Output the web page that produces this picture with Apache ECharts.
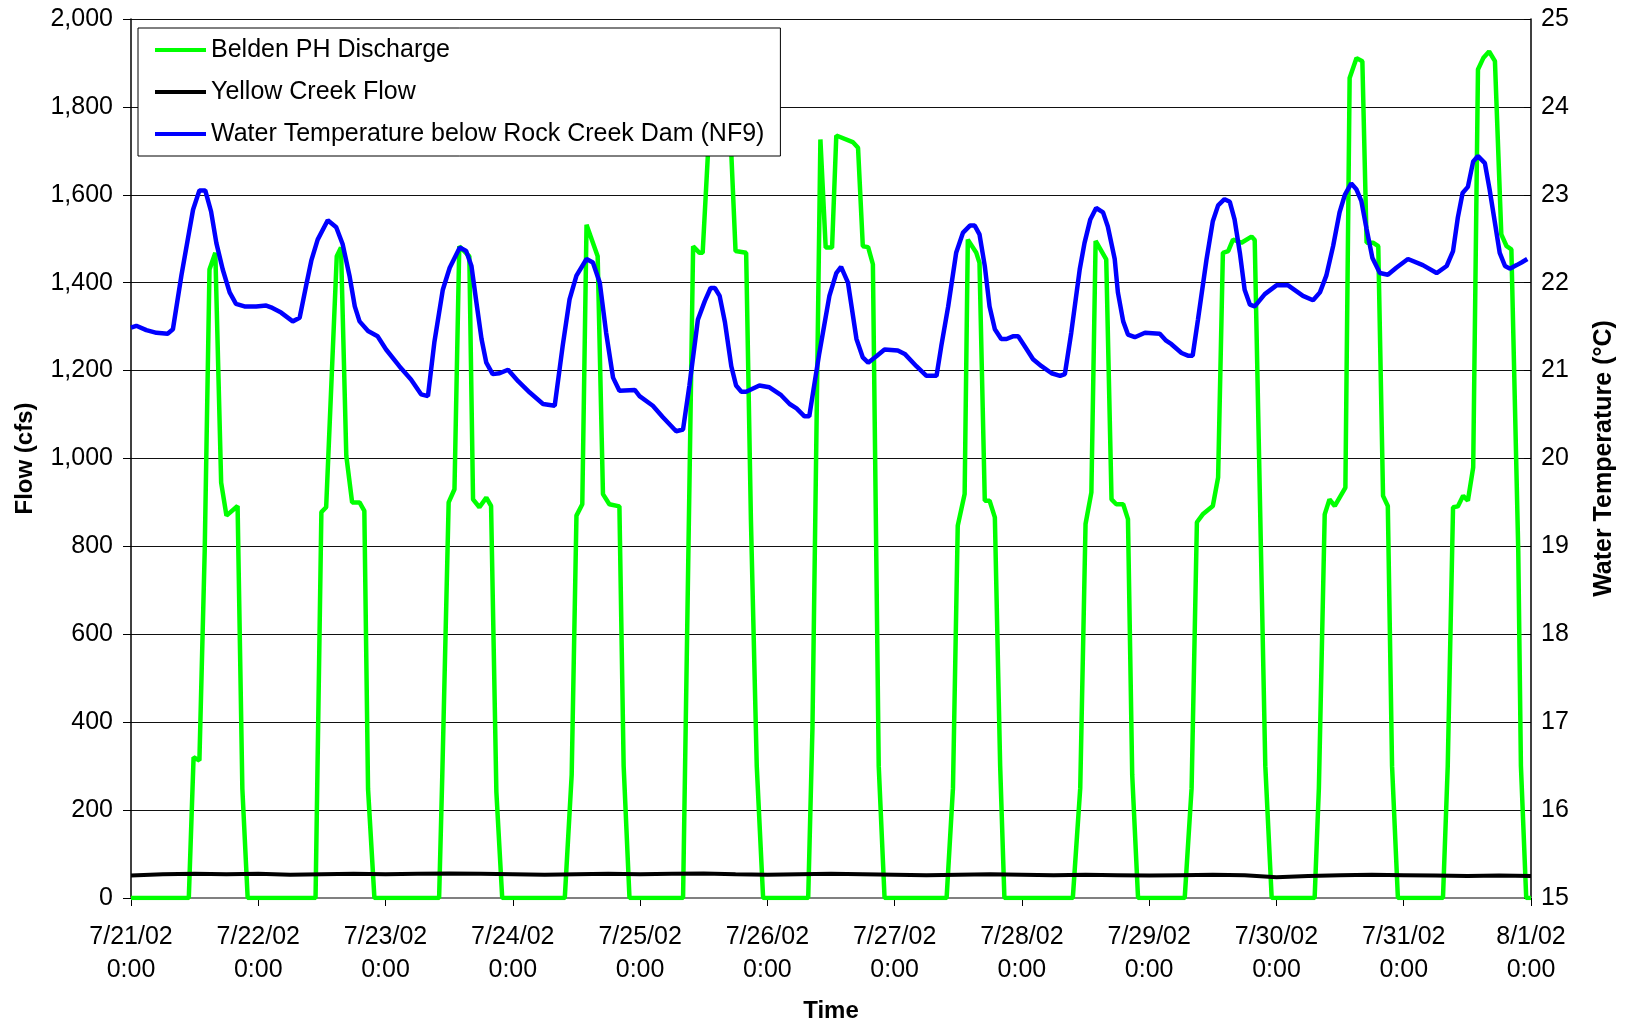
<!DOCTYPE html>
<html>
<head>
<meta charset="utf-8">
<script src="https://cdn.jsdelivr.net/npm/echarts@6/dist/echarts.min.js"></script>
<style>
html, body { margin: 0; padding: 0; background: #fff; }
#chart { width: 1629px; height: 1028px; }
</style>
</head>
<body>
<div id="chart"></div>
<script>
// x = hours since 7/21/02 0:00
const dayLabels = ['7/21/02', '7/22/02', '7/23/02', '7/24/02', '7/25/02', '7/26/02',
    '7/27/02', '7/28/02', '7/29/02', '7/30/02', '7/31/02', '8/1/02'];

// Belden PH Discharge (cfs) - break points of the line
const beldenHours = [
    0, 10.9, 11.8, 12.9, 13.9, 14.8, 15.9, 17.0, 18.0, 20.1, 21.0, 22.0,
    34.8, 35.9, 36.8, 38.8, 39.6, 40.6, 41.7, 43.1, 44.0, 44.7, 45.9,
    58.1, 58.7, 59.9, 61.0, 61.9, 63.8, 64.5, 65.7, 67.0, 67.9, 68.9, 70.0,
    81.8, 83.1, 84.0, 85.1, 85.9, 88.0, 89.0, 90.2, 92.1, 92.9, 94.0,
    104.1, 106.0, 107.2, 107.8, 109.0, 110.0, 112.0, 113.0, 114.0, 116.0, 116.9, 118.0, 119.2,
    127.7, 128.5, 130.0, 131.0, 132.2, 133.0, 136.1, 137.1, 138.0, 139.0, 139.9, 141.0, 142.1,
    153.8, 155.0, 155.9, 157.2, 157.8, 159.4, 160.0, 161.0, 161.9, 162.9, 163.9, 164.7,
    177.6, 179.0, 180.0, 181.1, 181.9, 183.9, 184.9, 185.8, 187.1, 188.0, 188.8, 189.9,
    198.7, 200.0, 201.0, 202.1, 204.0, 205.0, 205.9, 206.9, 207.8, 209.4, 211.3, 211.9, 213.9, 215.1,
    223.2, 224.0, 225.1, 226.0, 227.0, 229.0, 229.8, 231.1, 232.2, 233.0, 234.2, 235.2, 236.1, 237.0, 237.8, 238.9,
    247.4, 248.3, 249.3, 250.2, 251.2, 252.1, 253.1, 254.0, 255.0, 256.1, 257.2, 258.4, 259.4, 260.3, 261.6, 262.1, 263.1, 264
];
const beldenFlow = [
    0, 0, 320, 313, 790, 1430, 1468, 945, 870, 892, 248, 0,
    0, 878, 889, 1460, 1480, 1006, 900, 900, 881, 248, 0,
    0, 279, 900, 930, 1483, 1460, 907, 889, 911, 892, 241, 0,
    0, 280, 870, 896, 1532, 1460, 919, 896, 891, 300, 0,
    0, 1483, 1468, 1468, 1740, 1760, 1755, 1750, 1472, 1468, 860, 300, 0,
    0, 385, 1726, 1480, 1480, 1735, 1720, 1707, 1483, 1481, 1442, 300, 0,
    0, 250, 847, 919, 1498, 1468, 1445, 904, 904, 866, 300, 0,
    0, 250, 851, 923, 1495, 1453, 907, 896, 896, 862, 280, 0,
    0, 250, 855, 873, 892, 957, 1468, 1472, 1498, 1491, 1505, 1497, 300, 0,
    0, 250, 873, 907, 892, 934, 1866, 1911, 1904, 1491, 1491, 1483, 915, 892, 300, 0,
    0, 300, 889, 891, 915, 904, 980, 1885, 1911, 1926, 1904, 1510, 1483, 1476, 788, 300, 0, 0
];

// Yellow Creek Flow (cfs), every 6 hours
const yellowStep = 6;
const yellowFlow = [51, 54, 55, 54, 55, 53, 54, 55, 54, 55, 56, 55, 54, 53, 54, 55, 54, 55, 56, 54,
    53, 54, 55, 54, 53, 52, 53, 54, 53, 52, 53, 52, 51, 52, 53, 52, 47, 50, 52, 53, 52, 51, 50, 51, 50];

// Water Temperature below Rock Creek Dam (NF9), deg C
const tempHours = [
    0, 1.0, 2.9, 4.8, 6.9, 7.9, 9.5, 10.7, 11.7, 12.9, 14.0, 15.1, 16.1, 17.3, 18.6, 19.8, 21.4, 23.6,
    25.5, 26.4, 28.3, 30.5, 31.8, 33.0, 34.0, 35.2, 37.1, 38.7, 39.9, 41.2, 42.2, 43.1, 44.7, 46.5,
    48.1, 50.6, 52.8, 54.7, 56.0, 57.2, 58.8, 60.1, 62.0, 63.2, 64.2, 65.1, 66.1, 67.0, 68.2, 69.5, 71.1,
    73.0, 75.2, 77.7, 79.9, 81.4, 82.7, 84.0, 85.9, 87.1, 88.4, 89.6, 90.9, 92.1, 95.0,
    95.9, 98.4, 100.3, 102.8, 104.1, 105.3, 106.9, 108.2, 109.3, 110.1, 111.0, 112.0, 113.2, 114.1, 115.1, 116.0, 118.5,
    120.4, 122.6, 124.2, 125.5, 127.0, 127.9, 129.8, 131.7, 133.0, 133.9, 135.2, 136.8, 138.0, 139.0, 140.5, 142.1,
    144.6, 145.9, 148.1, 150.0, 151.9, 152.8, 154.1, 155.6, 156.9, 158.2, 159.1, 160.0, 161.0, 161.9, 162.9, 164.1, 165.1, 166.3, 167.3,
    168.5, 170.1, 171.7, 173.6, 175.2, 176.1, 177.3, 178.9, 179.8, 180.9, 182.0, 183.3, 184.2, 185.5, 186.1, 187.1, 188.0, 189.3, 191.2,
    194.0, 195.2, 196.2, 198.1, 199.3, 200.2, 201.2, 202.8, 204.0, 205.0, 206.2, 207.2, 208.1, 209.1, 210.0, 211.0, 211.9, 213.8,
    216.0, 218.2, 221.0, 222.9, 224.2, 225.4, 226.7, 227.9, 228.9, 230.1, 231.1, 232.0, 233.0, 234.1, 235.5, 237.0, 238.6,
    240.8, 243.6, 246.2, 248.1, 249.3, 250.2, 251.1, 252.1, 253.1, 254.0, 255.3, 256.2, 257.2, 258.1, 259.1, 260.0, 261.3, 262.2, 263.3
];
const tempC = [
    21.49, 21.51, 21.46, 21.43, 21.42, 21.47, 22.08, 22.49, 22.83, 23.05, 23.05, 22.81, 22.45, 22.15, 21.89, 21.76, 21.73, 21.73,
    21.74, 21.72, 21.66, 21.56, 21.60, 21.96, 22.25, 22.49, 22.71, 22.63, 22.44, 22.08, 21.73, 21.56, 21.45, 21.39,
    21.24, 21.05, 20.90, 20.73, 20.71, 21.32, 21.92, 22.17, 22.40, 22.36, 22.19, 21.79, 21.36, 21.09, 20.96, 20.97, 21.01,
    20.88, 20.75, 20.62, 20.60, 21.28, 21.81, 22.08, 22.27, 22.23, 22.00, 21.43, 20.92, 20.77, 20.78,
    20.71, 20.60, 20.47, 20.31, 20.33, 20.83, 21.58, 21.79, 21.94, 21.94, 21.85, 21.55, 21.05, 20.83, 20.76, 20.76, 20.83,
    20.81, 20.72, 20.62, 20.57, 20.48, 20.48, 21.20, 21.85, 22.11, 22.18, 22.00, 21.36, 21.15, 21.09, 21.16, 21.24,
    21.23, 21.19, 21.05, 20.94, 20.94, 21.28, 21.73, 22.34, 22.57, 22.65, 22.65, 22.55, 22.19, 21.73, 21.47, 21.36, 21.36, 21.39, 21.39,
    21.28, 21.13, 21.05, 20.97, 20.94, 20.96, 21.43, 22.15, 22.45, 22.72, 22.85, 22.80, 22.64, 22.27, 21.89, 21.56, 21.41, 21.38, 21.43,
    21.42, 21.34, 21.30, 21.20, 21.17, 21.17, 21.58, 22.26, 22.70, 22.88, 22.95, 22.92, 22.72, 22.34, 21.92, 21.75, 21.73, 21.87,
    21.97, 21.97, 21.85, 21.80, 21.89, 22.08, 22.42, 22.80, 23.00, 23.13, 23.06, 22.93, 22.61, 22.28, 22.11, 22.09, 22.17,
    22.27, 22.20, 22.11, 22.19, 22.36, 22.74, 23.02, 23.09, 23.38, 23.44, 23.36, 23.06, 22.68, 22.34, 22.19, 22.16, 22.20, 22.23, 22.27
];

const fontFamily = '"Liberation Sans", Arial, sans-serif';
const withCommas = (v) => String(v).replace(/\B(?=(\d{3})+(?!\d))/g, ',');

const chart = echarts.init(document.getElementById('chart'));

const option = {
    backgroundColor: '#fff',
    animation: false,
    textStyle: { fontFamily: fontFamily, color: '#000' },
    grid: { left: 131, right: 98, top: 19, bottom: 129, containLabel: false },
    legend: {
        orient: 'vertical',
        left: 138,
        top: 28,
        padding: [8, 16, 8, 17],
        itemWidth: 51,
        itemHeight: 4,
        itemGap: 14,
        icon: 'rect',
        backgroundColor: '#fff',
        borderColor: '#000',
        borderWidth: 1,
        borderRadius: 0,
        textStyle: { fontSize: 25, lineHeight: 28, color: '#000', fontFamily: fontFamily },
        data: ['Belden PH Discharge', 'Yellow Creek Flow', 'Water Temperature below Rock Creek Dam (NF9)']
    },
    xAxis: {
        type: 'value',
        min: 0,
        max: 264,
        interval: 24,
        name: 'Time',
        nameLocation: 'middle',
        nameGap: 101,
        nameTextStyle: { fontSize: 24, fontWeight: 'bold', color: '#000' },
        axisLine: { lineStyle: { color: '#808080', width: 2 } },
        axisTick: { show: true, length: 8, lineStyle: { color: '#000', width: 1 } },
        axisLabel: {
            fontSize: 25,
            lineHeight: 33,
            margin: 23,
            color: '#000',
            showMinLabel: true,
            showMaxLabel: true,
            formatter: (v) => dayLabels[Math.round(v / 24)] + '\n0:00'
        },
        splitLine: { show: false }
    },
    yAxis: [
        {
            type: 'value',
            min: 0,
            max: 2000,
            interval: 200,
            name: 'Flow (cfs)',
            nameLocation: 'middle',
            nameRotate: 90,
            nameGap: 94,
            nameTextStyle: { fontSize: 24, fontWeight: 'bold', color: '#000' },
            axisLine: { show: true, lineStyle: { color: '#000', width: 1.5 } },
            axisTick: { show: true, length: 8, lineStyle: { color: '#000' } },
            axisLabel: { fontSize: 25, margin: 18, color: '#000', formatter: withCommas },
            splitLine: { show: true, lineStyle: { color: '#111', width: 1 } }
        },
        {
            type: 'value',
            position: 'right',
            min: 15,
            max: 25,
            interval: 1,
            name: 'Water Temperature (°C)',
            nameLocation: 'middle',
            nameRotate: 90,
            nameGap: 61,
            nameTextStyle: { fontSize: 25, fontWeight: 'bold', color: '#000' },
            axisLine: { show: true, lineStyle: { color: '#000', width: 1.5 } },
            axisTick: { show: true, inside: true, length: 7, lineStyle: { color: '#000' } },
            axisLabel: { fontSize: 25, margin: 10, color: '#000' },
            splitLine: { show: false }
        }
    ],
    series: [
        {
            name: 'Belden PH Discharge',
            type: 'line',
            yAxisIndex: 0,
            symbol: 'none',
            color: '#00FF00',
            lineStyle: { color: '#00FF00', width: 4.5 },
            data: beldenHours.map((h, i) => [h, beldenFlow[i]])
        },
        {
            name: 'Yellow Creek Flow',
            type: 'line',
            yAxisIndex: 0,
            symbol: 'none',
            color: '#000000',
            lineStyle: { color: '#000000', width: 4 },
            data: yellowFlow.map((v, i) => [i * yellowStep, v])
        },
        {
            name: 'Water Temperature below Rock Creek Dam (NF9)',
            type: 'line',
            yAxisIndex: 1,
            symbol: 'none',
            color: '#0000FF',
            lineStyle: { color: '#0000FF', width: 4.5 },
            data: tempHours.map((h, i) => [h, tempC[i]])
        }
    ]
};

chart.setOption(option);
</script>
</body>
</html>
